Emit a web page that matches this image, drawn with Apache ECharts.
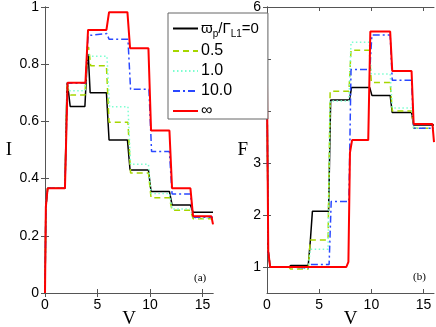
<!DOCTYPE html>
<html>
<head>
<meta charset="utf-8">
<title>I and F vs V</title>
<script src="https://cdn.jsdelivr.net/npm/echarts@6/dist/echarts.min.js"></script>
<style>
  html, body { margin: 0; padding: 0; background: #fff; }
  #chart { width: 436px; height: 327px; }
</style>
</head>
<body>
<div id="chart"></div>
<script>
// legend names (first one gets rich text formatting)
const names = ['ϖp/ΓL1=0', '0.5', '1.0', '10.0', '∞'];

// axis ticks
const vTicks = [0, 5, 10, 15];
const iTicks = [0, 0.2, 0.4, 0.6, 0.8, 1];
const fTicks = [1, 2, 3, 4, 5, 6];

// panel (a): current I vs V, points [V, I]
const iBlack = [[0,0],[0.08,0.3],[0.25,0.366],[1.9,0.366],[2.1,0.735],[2.25,0.70],[2.4,0.652],[3.8,0.652],[4.0,0.80],[4.12,0.835],[4.3,0.70],[5.85,0.70],[6.1,0.535],[7.85,0.535],[8.1,0.43],[9.85,0.43],[10.1,0.355],[11.85,0.355],[12.1,0.308],[13.85,0.308],[14.1,0.282],[16,0.282]];
const iGreen = [[0,0],[0.08,0.3],[0.25,0.366],[1.9,0.366],[2.1,0.735],[2.3,0.70],[2.45,0.692],[3.8,0.692],[4.05,0.85],[4.15,0.86],[4.35,0.795],[5.85,0.795],[6.1,0.597],[7.9,0.597],[8.15,0.42],[9.85,0.42],[10.1,0.333],[11.85,0.333],[12.1,0.289],[13.85,0.289],[14.1,0.26],[16,0.26]];
const iCyan = [[0,0],[0.08,0.3],[0.25,0.366],[1.9,0.366],[2.1,0.735],[2.3,0.707],[3.8,0.707],[4.05,0.84],[4.3,0.828],[5.9,0.828],[6.15,0.651],[7.9,0.651],[8.15,0.45],[9.85,0.45],[10.1,0.348],[11.85,0.348],[12.1,0.294],[13.85,0.294],[14.1,0.262],[16,0.262]];
const iBlue = [[0,0],[0.08,0.3],[0.25,0.366],[1.9,0.366],[2.15,0.733],[3.85,0.733],[4.1,0.90],[5.9,0.907],[6.1,0.887],[7.9,0.887],[8.15,0.712],[9.9,0.712],[10.15,0.495],[11.85,0.495],[12.1,0.346],[13.85,0.346],[14.1,0.265],[16,0.265]];
const iRed = [[0,0],[0.08,0.3],[0.25,0.366],[1.9,0.366],[2.15,0.735],[3.85,0.735],[4.1,0.92],[5.85,0.92],[6.1,0.982],[7.85,0.982],[8.1,0.856],[9.85,0.856],[10.1,0.568],[11.85,0.568],[12.1,0.366],[13.85,0.366],[14.1,0.268],[15.85,0.268],[16,0.24]];

// panel (b): F vs V, points [V, F]
const fBlack = [[0,4.5],[0.12,1.3],[0.3,1.0],[2.1,1.0],[2.3,1.03],[3.95,1.03],[4.15,1.5],[4.35,2.07],[5.9,2.07],[6.1,4.21],[7.9,4.21],[8.1,4.45],[9.85,4.45],[10.05,4.3],[11.8,4.3],[12.0,3.97],[13.85,3.97],[14.05,3.73],[16,3.73]];
const fGreen = [[0,4.5],[0.12,1.3],[0.3,1.0],[2.1,1.0],[2.25,0.96],[3.95,0.96],[4.15,1.52],[5.85,1.52],[6.05,4.38],[7.85,4.38],[8.05,5.17],[9.8,5.17],[10.0,4.55],[11.8,4.55],[12.0,4.0],[13.85,4.0],[14.05,3.67],[16,3.67]];
const fCyan = [[0,4.5],[0.12,1.3],[0.3,1.0],[2.1,1.0],[2.25,0.97],[3.95,0.97],[4.15,1.34],[5.85,1.34],[6.05,4.19],[7.85,4.19],[8.05,5.32],[9.8,5.32],[10.0,4.71],[11.8,4.71],[12.0,4.06],[13.85,4.06],[14.05,3.67],[16,3.67]];
const fBlue = [[0,4.5],[0.12,1.3],[0.3,1.0],[2.1,1.0],[2.25,0.98],[3.95,0.98],[4.15,1.05],[5.95,1.05],[6.15,2.26],[7.85,2.26],[8.05,4.8],[9.85,4.8],[10.05,5.46],[11.8,5.46],[12.0,4.59],[13.85,4.59],[14.05,3.67],[16,3.67]];
const fRed = [[0,4.5],[0.12,1.3],[0.3,1.0],[7.6,1.0],[7.8,1.1],[7.95,3.2],[8.15,3.44],[9.7,3.44],[9.9,5.53],[11.8,5.53],[12.0,4.77],[13.85,4.77],[14.05,3.75],[15.85,3.75],[16,3.4]];

const tickFont = { color: '#000', fontSize: 14, fontFamily: 'Liberation Sans, Arial, sans-serif' };
const nameFont = { color: '#000', fontSize: 19, fontFamily: 'Liberation Serif, Times New Roman, serif' };
const frame = { show: true, lineStyle: { color: '#555', width: 1 } };

// x axis (bottom + top frame) for a grid
function vAxis(grid, top) {
  return {
    type: 'value', gridIndex: grid, position: top ? 'top' : 'bottom',
    min: 0, max: 16,
    name: top ? '' : 'V', nameLocation: 'middle', nameGap: 17, nameMoveOverlap: false, nameTextStyle: nameFont,
    axisLine: frame,
    axisTick: { show: true, inside: true, length: 4, customValues: vTicks, lineStyle: { color: '#555' } },
    axisLabel: { show: !top, margin: 5, customValues: vTicks, ...tickFont },
    splitLine: { show: false }
  };
}

function yAxis(grid, right, min, max, ticks, label, gap) {
  return {
    type: 'value', gridIndex: grid, position: right ? 'right' : 'left',
    min: min, max: max,
    name: right ? '' : label, nameLocation: 'middle', nameGap: gap, nameRotate: 0, nameMoveOverlap: false, nameTextStyle: nameFont,
    axisLine: frame,
    axisTick: { show: true, inside: true, length: 4, customValues: ticks, lineStyle: { color: '#555' } },
    axisLabel: { show: !right, margin: 6, customValues: ticks, ...tickFont },
    splitLine: { show: false }
  };
}

function line(name, data, grid, color, width, type) {
  return {
    name: name, type: 'line', data: data,
    xAxisIndex: grid, yAxisIndex: grid,
    showSymbol: false, symbol: 'none', smooth: false,
    lineStyle: { color: color, width: width, type: type },
    itemStyle: { color: color },
    animation: false
  };
}

const chart = echarts.init(document.getElementById('chart'), null, { renderer: 'canvas' });
chart.setOption({
  backgroundColor: '#fff',
  animation: false,
  grid: [
    { left: 45, top: 7, width: 168, height: 286, outerBoundsMode: 'none', containLabel: false },
    { left: 267, top: 7, width: 167, height: 286, outerBoundsMode: 'none', containLabel: false }
  ],
  xAxis: [vAxis(0, false), vAxis(1, false), vAxis(0, true), vAxis(1, true)],
  yAxis: [
    yAxis(0, false, 0, 1, iTicks, 'I', 33),
    yAxis(1, false, 0.5, 6, fTicks, 'F', 19),
    yAxis(0, true, 0, 1, iTicks, '', 0),
    yAxis(1, true, 0.5, 6, fTicks, '', 0)
  ],
  legend: {
    orient: 'vertical', left: 168, top: 13,
    data: names,
    backgroundColor: '#fff', borderColor: '#666', borderWidth: 1,
    padding: [8, 9, 0, 4], itemGap: 4, itemWidth: 25, itemHeight: 14,
    itemStyle: { opacity: 0 },
    textStyle: {
      color: '#000', fontSize: 16, fontFamily: 'Liberation Sans, Arial, sans-serif', padding: [0, 0, 0, -2],
      rich: {
        a: { fontSize: 15, fontFamily: 'Liberation Sans, DejaVu Sans, sans-serif', color: '#000' },
        s: { fontSize: 10, fontFamily: 'Liberation Sans, sans-serif', color: '#000', padding: [11, 0, 0, 0] }
      }
    },
    formatter: function (n) {
      return n === names[0] ? '{a|ϖ}{s|p}{a|/Γ}{s|L1}{a|=0}' : n;
    }
  },
  graphic: [
    { type: 'text', left: 194, top: 273, style: { text: '(a)', fontSize: 11, fontFamily: 'Liberation Serif, serif', fill: '#000' } },
    { type: 'text', left: 413, top: 272, style: { text: '(b)', fontSize: 11, fontFamily: 'Liberation Serif, serif', fill: '#000' } }
  ],
  series: [
    line(names[0], iBlack, 0, '#000000', 1.5, 'solid'),
    line(names[1], iGreen, 0, '#a6d600', 1.5, [6, 4]),
    line(names[2], iCyan, 0, '#7dffd0', 1.5, [1.5, 2.5]),
    line(names[3], iBlue, 0, '#2a48ff', 1.5, [7, 3, 2, 3]),
    line(names[4], iRed, 0, '#ff0000', 2, 'solid'),
    line(names[0], fBlack, 1, '#000000', 1.5, 'solid'),
    line(names[1], fGreen, 1, '#a6d600', 1.5, [6, 4]),
    line(names[2], fCyan, 1, '#7dffd0', 1.5, [1.5, 2.5]),
    line(names[3], fBlue, 1, '#2a48ff', 1.5, [7, 3, 2, 3]),
    line(names[4], fRed, 1, '#ff0000', 2, 'solid')
  ]
});
</script>
</body>
</html>
